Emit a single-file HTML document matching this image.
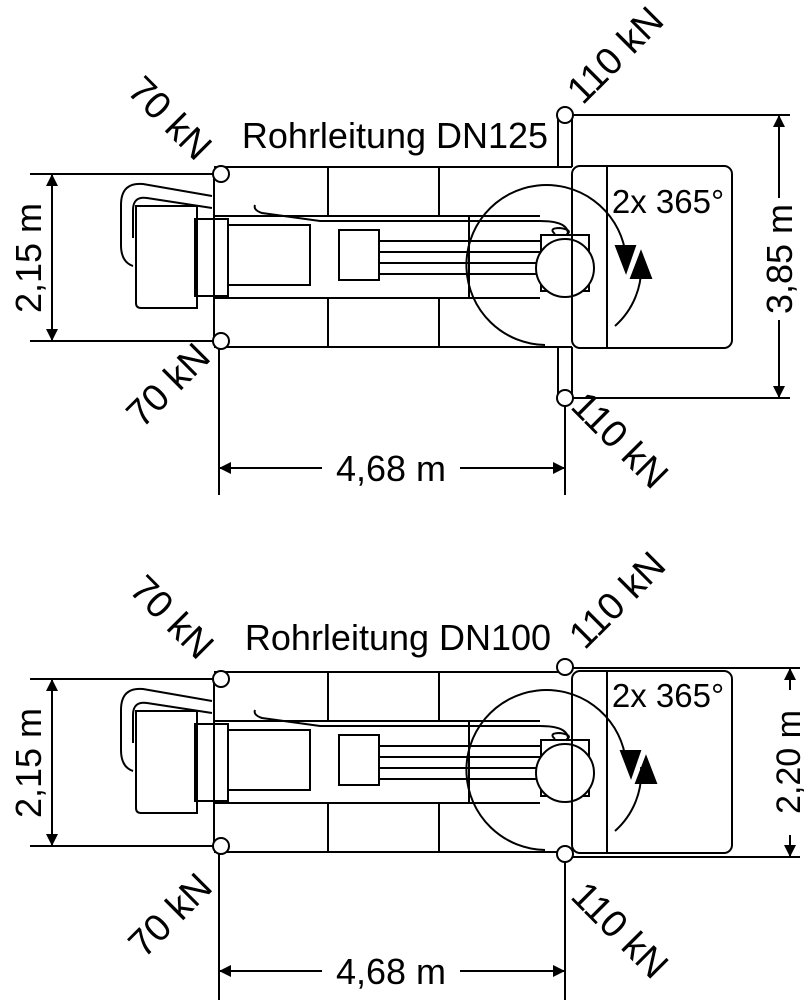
<!DOCTYPE html>
<html><head><meta charset="utf-8"><style>
html,body{margin:0;padding:0;background:#fff;}
svg{display:block;}
text{font-family:"Liberation Sans",sans-serif;fill:#000;}
</style></head><body>
<svg width="804" height="1000" viewBox="0 0 804 1000" xmlns="http://www.w3.org/2000/svg">
<defs>
<marker id="ah" markerWidth="12" markerHeight="12" refX="11" refY="6" orient="auto-start-reverse" markerUnits="userSpaceOnUse" viewBox="0 0 12 12"><path d="M0,0 L12,6 L0,12z" fill="#000"/></marker>
<g id="mach" fill="none" stroke="#000" stroke-width="2">
  <line x1="214" y1="167" x2="572" y2="167"/>
  <line x1="214" y1="347" x2="572" y2="347"/>
  <line x1="214" y1="174" x2="214" y2="341"/>
  <line x1="328" y1="167" x2="328" y2="216"/><line x1="328" y1="298" x2="328" y2="347"/>
  <line x1="439" y1="167" x2="439" y2="216"/><line x1="439" y1="298" x2="439" y2="347"/>
  <line x1="214" y1="216" x2="540" y2="216"/>
  <line x1="214" y1="298" x2="540" y2="298"/>
  <line x1="469" y1="216" x2="469" y2="298"/>
  <path d="M212,196 L143,184 Q121,182 121,205 L121,245 Q121,262 133,266"/>
  <path d="M212,208 L147,198 Q133,196 133,210 L133,238"/>
  <path d="M255,205 Q253,210 262,213 L320,221 L540,221 Q568,221 568,234"/>
  <path d="M136,206 L197,206 L197,308 L141,308 Q136,308 136,303 Z"/>
  <rect x="195" y="219" width="33" height="77"/>
  <rect x="228" y="225" width="82" height="60"/>
  <rect x="339" y="230" width="40" height="50"/>
  <line x1="379" y1="241" x2="541" y2="241"/>
  <line x1="379" y1="252" x2="541" y2="252"/>
  <line x1="379" y1="263" x2="541" y2="263"/>
  <line x1="379" y1="274" x2="541" y2="274"/>
  <rect x="541" y="235" width="48" height="56"/>
  <circle cx="565" cy="268" r="29" fill="#fff"/>
  <path d="M555,234 Q548,228 560,228 Q574,230 566,235"/>
  <circle cx="221" cy="174" r="8" fill="#fff"/>
  <circle cx="221" cy="341" r="8" fill="#fff"/>
  <rect x="572" y="166" width="160" height="182" rx="8"/>
  <line x1="607" y1="166" x2="607" y2="348"/>
  <path d="M625,250 A80,80 0 1 0 545,345"/>
  <path d="M615,326 A78,78 0 0 0 641,262"/>
  <line x1="30" y1="174" x2="214" y2="174"/>
  <line x1="30" y1="341" x2="214" y2="341"/>
  <line x1="52" y1="175" x2="52" y2="340" marker-start="url(#ah)" marker-end="url(#ah)"/>
  <line x1="219" y1="349" x2="219" y2="495"/>
</g>
</defs>

<use href="#mach"/>
<g fill="none" stroke="#000" stroke-width="2">
  <path d="M626,272 L616,246 L635,246 Z" fill="#000"/>
  <path d="M641,252 L631,278 L651,278 Z" fill="#000"/>
  <line x1="558" y1="115" x2="558" y2="167"/><line x1="572" y1="115" x2="572" y2="167"/>
  <line x1="558" y1="347" x2="558" y2="398"/><line x1="572" y1="347" x2="572" y2="398"/>
  <line x1="572" y1="115" x2="790" y2="115"/>
  <line x1="572" y1="398" x2="790" y2="398"/>
  <circle cx="565" cy="115" r="8" fill="#fff"/>
  <circle cx="565" cy="398" r="8" fill="#fff"/>
  <line x1="565" y1="406" x2="565" y2="495"/>
  <line x1="779" y1="116" x2="779" y2="198" marker-start="url(#ah)"/>
  <line x1="779" y1="320" x2="779" y2="397" marker-end="url(#ah)"/>
  <line x1="220" y1="468" x2="322" y2="468" marker-start="url(#ah)"/>
  <line x1="460" y1="468" x2="564" y2="468" marker-end="url(#ah)"/>
</g>
<text x="395" y="148" font-size="36" text-anchor="middle">Rohrleitung DN125</text>
<text x="668" y="213" font-size="33" text-anchor="middle">2x 365°</text>
<text x="391" y="481" font-size="36" text-anchor="middle">4,68 m</text>
<text transform="translate(41,258) rotate(-90)" font-size="36" text-anchor="middle">2,15 m</text>
<text transform="translate(792,259) rotate(-90)" font-size="36" text-anchor="middle">3,85 m</text>
<text transform="translate(170,118) rotate(45)" font-size="38" text-anchor="middle" dy="13">70 kN</text>
<text transform="translate(168,385) rotate(-45)" font-size="38" text-anchor="middle" dy="13">70 kN</text>
<text transform="translate(615,55) rotate(-45)" font-size="38" text-anchor="middle" dy="13">110 kN</text>
<text transform="translate(620,440) rotate(45)" font-size="38" text-anchor="middle" dy="13">110 kN</text>

<use href="#mach" transform="translate(0,505)"/>
<g fill="none" stroke="#000" stroke-width="2">
  <path d="M631,777 L621,751 L640,751 Z" fill="#000"/>
  <path d="M646,757 L636,783 L656,783 Z" fill="#000"/>
  <line x1="572" y1="668" x2="800" y2="668"/>
  <line x1="572" y1="857" x2="800" y2="857"/>
  <circle cx="565" cy="667" r="8" fill="#fff"/>
  <circle cx="565" cy="854" r="8" fill="#fff"/>
  <line x1="565" y1="862" x2="565" y2="1000"/>
  <line x1="790" y1="669" x2="790" y2="690" marker-start="url(#ah)"/>
  <line x1="790" y1="835" x2="790" y2="856" marker-end="url(#ah)"/>
  <line x1="220" y1="971" x2="322" y2="971" marker-start="url(#ah)"/>
  <line x1="460" y1="971" x2="564" y2="971" marker-end="url(#ah)"/>
</g>
<text x="398" y="650" font-size="36" text-anchor="middle">Rohrleitung DN100</text>
<text x="668" y="707" font-size="33" text-anchor="middle">2x 365°</text>
<text x="391" y="984" font-size="36" text-anchor="middle">4,68 m</text>
<text transform="translate(41,763) rotate(-90)" font-size="36" text-anchor="middle">2,15 m</text>
<text transform="translate(800,762) rotate(-90)" font-size="34" text-anchor="middle">2,20 m</text>
<text transform="translate(172,617) rotate(45)" font-size="38" text-anchor="middle" dy="13">70 kN</text>
<text transform="translate(170,915) rotate(-45)" font-size="38" text-anchor="middle" dy="13">70 kN</text>
<text transform="translate(617,600) rotate(-45)" font-size="38" text-anchor="middle" dy="13">110 kN</text>
<text transform="translate(620,930) rotate(45)" font-size="38" text-anchor="middle" dy="13">110 kN</text>
</svg>
</body></html>
